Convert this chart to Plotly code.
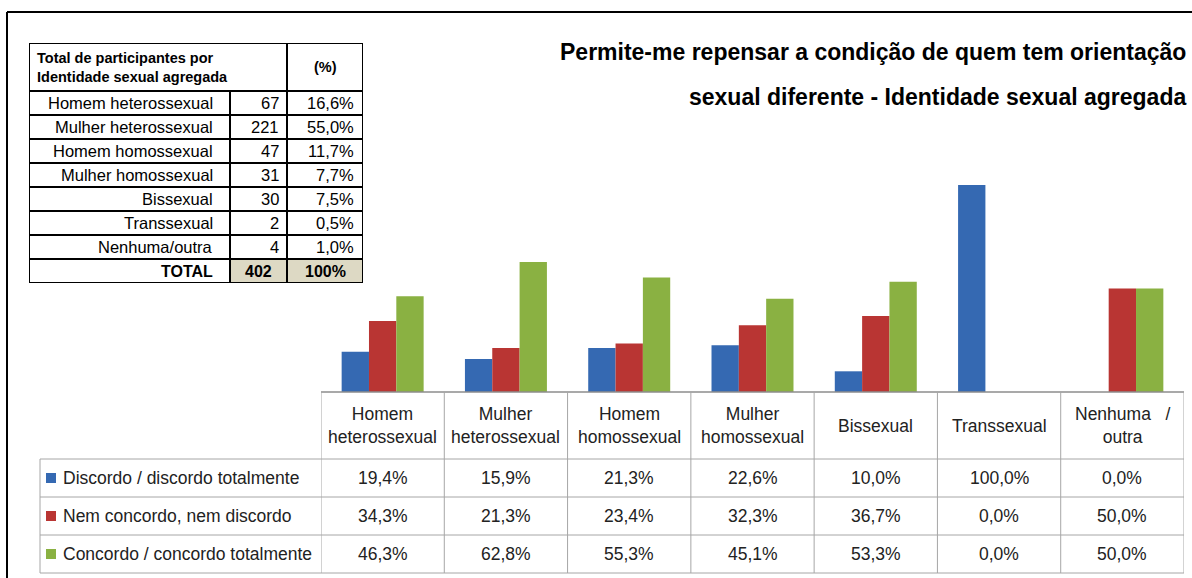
import plotly.graph_objects as go

W, H = 1192, 578

categories = ["Homem heterossexual", "Mulher heterossexual", "Homem homossexual",
              "Mulher homossexual", "Bissexual", "Transsexual", "Nenhuma/outra"]
cat_labels = ["Homem<br>heterossexual", "Mulher<br>heterossexual", "Homem<br>homossexual",
              "Mulher<br>homossexual", "Bissexual", "Transsexual", "Nenhuma   /<br>outra"]
series_names = ["Discordo / discordo totalmente", "Nem concordo, nem discordo",
                "Concordo / concordo totalmente"]
discordo = [19.4, 15.9, 21.3, 22.6, 10.0, 100.0, 0.0]
nem = [34.3, 21.3, 23.4, 32.3, 36.7, 0.0, 50.0]
concordo = [46.3, 62.8, 55.3, 45.1, 53.3, 0.0, 50.0]
colors = ["#3569B2", "#B93533", "#8AB142"]

# tabela de participantes
part_labels = ["Homem heterossexual", "Mulher heterossexual", "Homem homossexual",
               "Mulher homossexual", "Bissexual", "Transsexual", "Nenhuma/outra"]
part_counts = [67, 221, 47, 31, 30, 2, 4]
part_pct = ["16,6%", "55,0%", "11,7%", "7,7%", "7,5%", "0,5%", "1,0%"]
part_total = 402
part_total_pct = "100%"

title_lines = ["Permite-me repensar a condição de quem tem orientação",
               "sexual diferente - Identidade sexual agregada"]

FONT = "Liberation Sans, Arial, sans-serif"


def px(x):
    return x / W


def py(y):
    return 1 - y / H


def fmt(v):
    return f"{v:.1f}%".replace(".", ",")


fig = go.Figure()
for name, vals, c in zip(series_names, [discordo, nem, concordo], colors):
    fig.add_trace(go.Bar(x=list(range(len(categories))), y=[v / 100 for v in vals], name=name,
                         marker=dict(color=c, line=dict(width=0)), showlegend=False,
                         hoverinfo="skip"))

shapes = []
ann = []
grid = "#A6A6A6"
txt = "#222222"

# tabela de dados em baixo
row_lines = [459, 497, 535, 573]
shapes.append(dict(type="line", xref="paper", yref="paper", x0=px(321), x1=px(1184),
                   y0=py(392), y1=py(392), line=dict(color="#8C8C8C", width=1.5)))
for yl in row_lines:
    shapes.append(dict(type="line", xref="paper", yref="paper", x0=px(40), x1=px(1184),
                       y0=py(yl), y1=py(yl), line=dict(color=grid, width=1)))
for i in range(len(categories) + 1):
    shapes.append(dict(type="line", xref="x", yref="paper", x0=i - 0.5, x1=i - 0.5,
                       y0=py(392), y1=py(573), line=dict(color=grid, width=1)))
shapes.append(dict(type="line", xref="paper", yref="paper", x0=px(40), x1=px(40),
                   y0=py(459), y1=py(573), line=dict(color=grid, width=1)))

for i, lab in enumerate(cat_labels):
    ann.append(dict(x=i, y=py(425.5), xref="x", yref="paper", text=lab, showarrow=False,
                    xanchor="center", yanchor="middle",
                    font=dict(family=FONT, size=17.5, color=txt), align="center"))

for r, (name, vals, c) in enumerate(zip(series_names, [discordo, nem, concordo], colors)):
    yc = (row_lines[r] + row_lines[r + 1]) / 2
    shapes.append(dict(type="rect", xref="paper", yref="paper", x0=px(46), x1=px(56),
                       y0=py(yc - 5), y1=py(yc + 5), fillcolor=c, line=dict(width=0)))
    ann.append(dict(x=px(61), y=py(yc), xref="paper", yref="paper", text=name, showarrow=False,
                    xanchor="left", yanchor="middle", font=dict(family=FONT, size=17.5, color=txt)))
    for i, v in enumerate(vals):
        ann.append(dict(x=i, y=py(yc), xref="x", yref="paper", text=fmt(v), showarrow=False,
                        xanchor="center", yanchor="middle",
                        font=dict(family=FONT, size=17.5, color=txt)))

# moldura exterior
shapes.append(dict(type="line", xref="paper", yref="paper", x0=px(7), x1=1, y0=py(12), y1=py(12),
                   line=dict(color="black", width=2)))
shapes.append(dict(type="line", xref="paper", yref="paper", x0=px(7), x1=px(7), y0=py(12), y1=0,
                   line=dict(color="black", width=2)))

# tabela de participantes (eixos x2/y2 em unidades de pixel)
shapes.append(dict(type="rect", xref="x2", yref="y2", x0=201, x1=334, y0=216, y1=240,
                   fillcolor="#DDD9C4", line=dict(width=0), layer="below"))
shapes.append(dict(type="rect", xref="x2", yref="y2", x0=0, x1=334, y0=0, y1=240,
                   line=dict(color="black", width=2)))
for k in range(len(part_labels) + 1):
    yl = 48 + 24 * k
    shapes.append(dict(type="line", xref="x2", yref="y2", x0=0, x1=334, y0=yl, y1=yl,
                       line=dict(color="black", width=2)))
shapes.append(dict(type="line", xref="x2", yref="y2", x0=201, x1=201, y0=48, y1=240,
                   line=dict(color="black", width=2)))
shapes.append(dict(type="line", xref="x2", yref="y2", x0=258, x1=258, y0=0, y1=240,
                   line=dict(color="black", width=2)))

ann.append(dict(x=6, y=24, xref="x2", yref="y2", xanchor="left", yanchor="middle", align="left",
                showarrow=False, text="<b>Total de participantes por<br>Identidade sexual agregada</b>",
                font=dict(family=FONT, size=14.5, color="black")))
ann.append(dict(x=296, y=24, xref="x2", yref="y2", yanchor="middle", showarrow=False, text="<b>(%)</b>",
                font=dict(family=FONT, size=14.5, color="black")))
for k, (lab, n, p) in enumerate(zip(part_labels, part_counts, part_pct)):
    yc = 60 + 24 * k
    ann.append(dict(x=186, y=yc, xref="x2", yref="y2", xanchor="right", yanchor="middle",
                    showarrow=False, text=lab, font=dict(family=FONT, size=16.5, color="black")))
    ann.append(dict(x=252, y=yc, xref="x2", yref="y2", xanchor="right", yanchor="middle",
                    showarrow=False, text=str(n), font=dict(family=FONT, size=16.5, color="black")))
    ann.append(dict(x=327, y=yc, xref="x2", yref="y2", xanchor="right", yanchor="middle",
                    showarrow=False, text=p, font=dict(family=FONT, size=16.5, color="black")))
ann.append(dict(x=186, y=228, xref="x2", yref="y2", xanchor="right", yanchor="middle", showarrow=False,
                text="<b>TOTAL</b>", font=dict(family=FONT, size=16, color="black")))
ann.append(dict(x=229.5, y=228, xref="x2", yref="y2", yanchor="middle", showarrow=False,
                text=f"<b>{part_total}</b>", font=dict(family=FONT, size=16, color="black")))
ann.append(dict(x=296, y=228, xref="x2", yref="y2", yanchor="middle", showarrow=False,
                text=f"<b>{part_total_pct}</b>", font=dict(family=FONT, size=16, color="black")))

# título
for line, yc in zip(title_lines, [52, 97]):
    ann.append(dict(x=px(1188), y=py(yc), xref="paper", yref="paper", xanchor="right", yanchor="middle",
                    showarrow=False, text=f"<b>{line}</b>", font=dict(family=FONT, size=23, color="black")))

fig.update_layout(
    width=W, height=H,
    margin=dict(l=0, r=0, t=0, b=0),
    paper_bgcolor="white", plot_bgcolor="rgba(0,0,0,0)",
    barmode="group", bargap=0.335, bargroupgap=0,
    xaxis=dict(domain=[px(321), px(1184)], range=[-0.5, 6.5], visible=False, fixedrange=True),
    yaxis=dict(domain=[py(392), py(143.6)], range=[0, 1.2], visible=False, fixedrange=True),
    xaxis2=dict(domain=[px(29), px(363)], range=[0, 334], visible=False, anchor="y2"),
    yaxis2=dict(domain=[py(283), py(43)], range=[240, 0], visible=False, anchor="x2"),
    shapes=shapes,
    annotations=ann,
)

fig.write_html("out.html", config={"displayModeBar": False},
               post_script="document.body.style.margin='0';")
